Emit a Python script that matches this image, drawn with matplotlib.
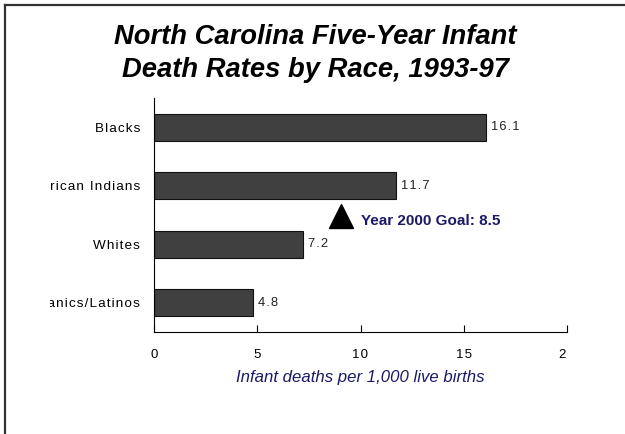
import matplotlib
matplotlib.use("Agg")
import matplotlib.pyplot as plt
from matplotlib.transforms import Bbox, TransformedBbox, ScaledTranslation
from matplotlib.lines import Line2D

categories = ["Hispanics/Latinos", "Whites", "American Indians", "Blacks"]
rates = [4.8, 7.2, 11.7, 16.1]
goal = 8.5
goal_label = "Year 2000 Goal: 8.5"
xticks = [0, 5, 10, 15, 20]
title_lines = ["North Carolina Five-Year Infant", "Death Rates by Race, 1993-97"]
xlabel = "Infant deaths per 1,000 live births"

HS = "\u200a"


def spaced(s):
    return HS.join(s)


plt.rcParams['font.family'] = ['Liberation Sans', 'DejaVu Sans']
W, H = 625, 434
fig = plt.figure(figsize=(W / 100, H / 100), dpi=100)
ax = fig.add_axes([154 / W, 1 - 332 / H, (567 - 154) / W, (332 - 98) / H])

ypos = list(range(len(categories)))
ax.barh(ypos, rates, height=0.47, color="#404040", edgecolor="#111111", linewidth=0.8)
for y, v in zip(ypos, rates):
    ax.text(v, y, spaced(f"{v:.1f}"), va="center", ha="left", fontsize=9.3, color="#222222",
            transform=ax.transData + ScaledTranslation(5 / 100, 0, fig.dpi_scale_trans))

ax.set_xlim(0, 20)
ax.set_ylim(-0.5, 3.5)
ax.set_xticks(xticks)
ax.set_xticklabels([spaced(str(t)) for t in xticks], fontsize=9.5)
ax.set_yticks(ypos)
ax.set_yticklabels([spaced(c) for c in categories], fontsize=9.7)
ax.tick_params(axis="x", direction="in", length=5, pad=12, width=0.8)
ax.tick_params(axis="y", length=0, pad=10)
for s in ["top", "right"]:
    ax.spines[s].set_visible(False)
for s in ["left", "bottom"]:
    ax.spines[s].set_linewidth(0.8)

clip_y = TransformedBbox(Bbox([[49.5 / W, 0], [1, 1]]), fig.transFigure)
clip_x = TransformedBbox(Bbox([[0, 0], [(567 + 1) / W, 1]]), fig.transFigure)
for lab in ax.get_yticklabels():
    lab.set_clip_on(True)
    lab.set_clip_box(clip_y)
for lab in ax.get_xticklabels():
    lab.set_clip_on(True)
    lab.set_clip_box(clip_x)

ax.set_xlabel(xlabel, fontsize=12.1, style="italic", color="#1a1a66", labelpad=7)

# goal marker
off = ScaledTranslation(11 / 100, 0, fig.dpi_scale_trans)
ax.plot([goal], [1.49], marker="^", markersize=17, color="black",
        transform=ax.transData + off, clip_on=False)
ax.text(goal, 1.40, goal_label,
        transform=ax.transData + ScaledTranslation(31 / 100, 0, fig.dpi_scale_trans),
        fontsize=11, fontweight="bold", color="#1a1a66", va="center", ha="left")

for line, base in zip(title_lines, [44, 77]):
    fig.text(0.5 + 3 / W, 1 - base / H, line, ha="center", va="baseline", fontsize=19.7,
             fontweight="bold", style="italic")

# frame lines (top and left)
fig.add_artist(Line2D([5 / W, 5 / W], [0, 1 - 5 / H], transform=fig.transFigure, color="#333333", lw=1.6))
fig.add_artist(Line2D([5 / W, 1], [1 - 5 / H, 1 - 5 / H], transform=fig.transFigure, color="#333333", lw=1.6))

fig.savefig("out.png", dpi=100)
